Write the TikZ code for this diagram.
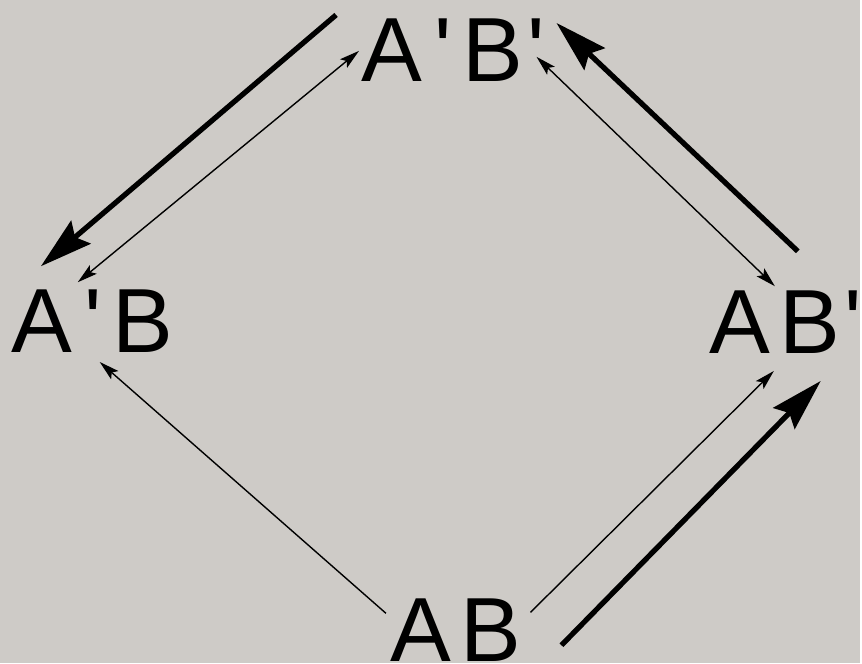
\documentclass[tikz,border=0pt]{standalone}
\usepackage{fontspec}
\setmainfont{Liberation Sans}
\usetikzlibrary{arrows.meta}
\definecolor{paper}{RGB}{206,203,199}
\newcommand{\pr}{\textquotesingle}

\begin{document}
\begin{tikzpicture}[x=0.02cm,y=-0.02cm,
    lbl/.style={anchor=base west,inner sep=0pt,font=\fontsize{52}{60}\selectfont},
    thinarr/.style={line width=0.8pt,-{Stealth[length=0.4cm,width=0.22cm,inset=0.08cm]}},
    thinboth/.style={line width=0.8pt,{Stealth[length=0.4cm,width=0.22cm,inset=0.08cm]}-{Stealth[length=0.4cm,width=0.22cm,inset=0.08cm]}},
    thickarr/.style={line width=3pt,-{Stealth[length=1.05cm,width=0.6cm,inset=0.15cm]}}]
        \fill[paper] (0,0) rectangle (862,665);
        \node[lbl] (ApBp) at (362,82) {A\kern0.14em\pr\kern0.11em B\kern0.05em\pr};
        \node[lbl] (ApB) at (11,353) {A\kern0.14em\pr\kern0.11em B};
        \node[lbl] (ABp) at (711,354) {A\kern0.1em B\kern0.05em\pr};
        \node[lbl] (AB) at (391,663) {A\kern0.1em B};
        % ends of the connectors
        \coordinate (tl1) at (337,15);   \coordinate (tl2) at (41,267);
        \coordinate (tl3) at (78,283);   \coordinate (tl4) at (360,51);
        \coordinate (tr1) at (538,57);   \coordinate (tr2) at (777,287);
        \coordinate (tr3) at (800,252);  \coordinate (tr4) at (558,23);
        \coordinate (bl1) at (387,615);  \coordinate (bl2) at (100,363);
        \coordinate (br1) at (532,614);  \coordinate (br2) at (776,372);
        \coordinate (br3) at (563,647);  \coordinate (br4) at (823,382);
        \draw [thickarr] (tl1)--(tl2);
        \draw [thinboth] (tl3)--(tl4);
        \draw [thinboth] (tr1)--(tr2);
        \draw [thickarr] (tr3)--(tr4);
        \draw [thinarr] (bl1)--(bl2);
        \draw [thinarr] (br1)--(br2);
        \draw [thickarr] (br3)--(br4);
    \end{tikzpicture}
\end{document}
